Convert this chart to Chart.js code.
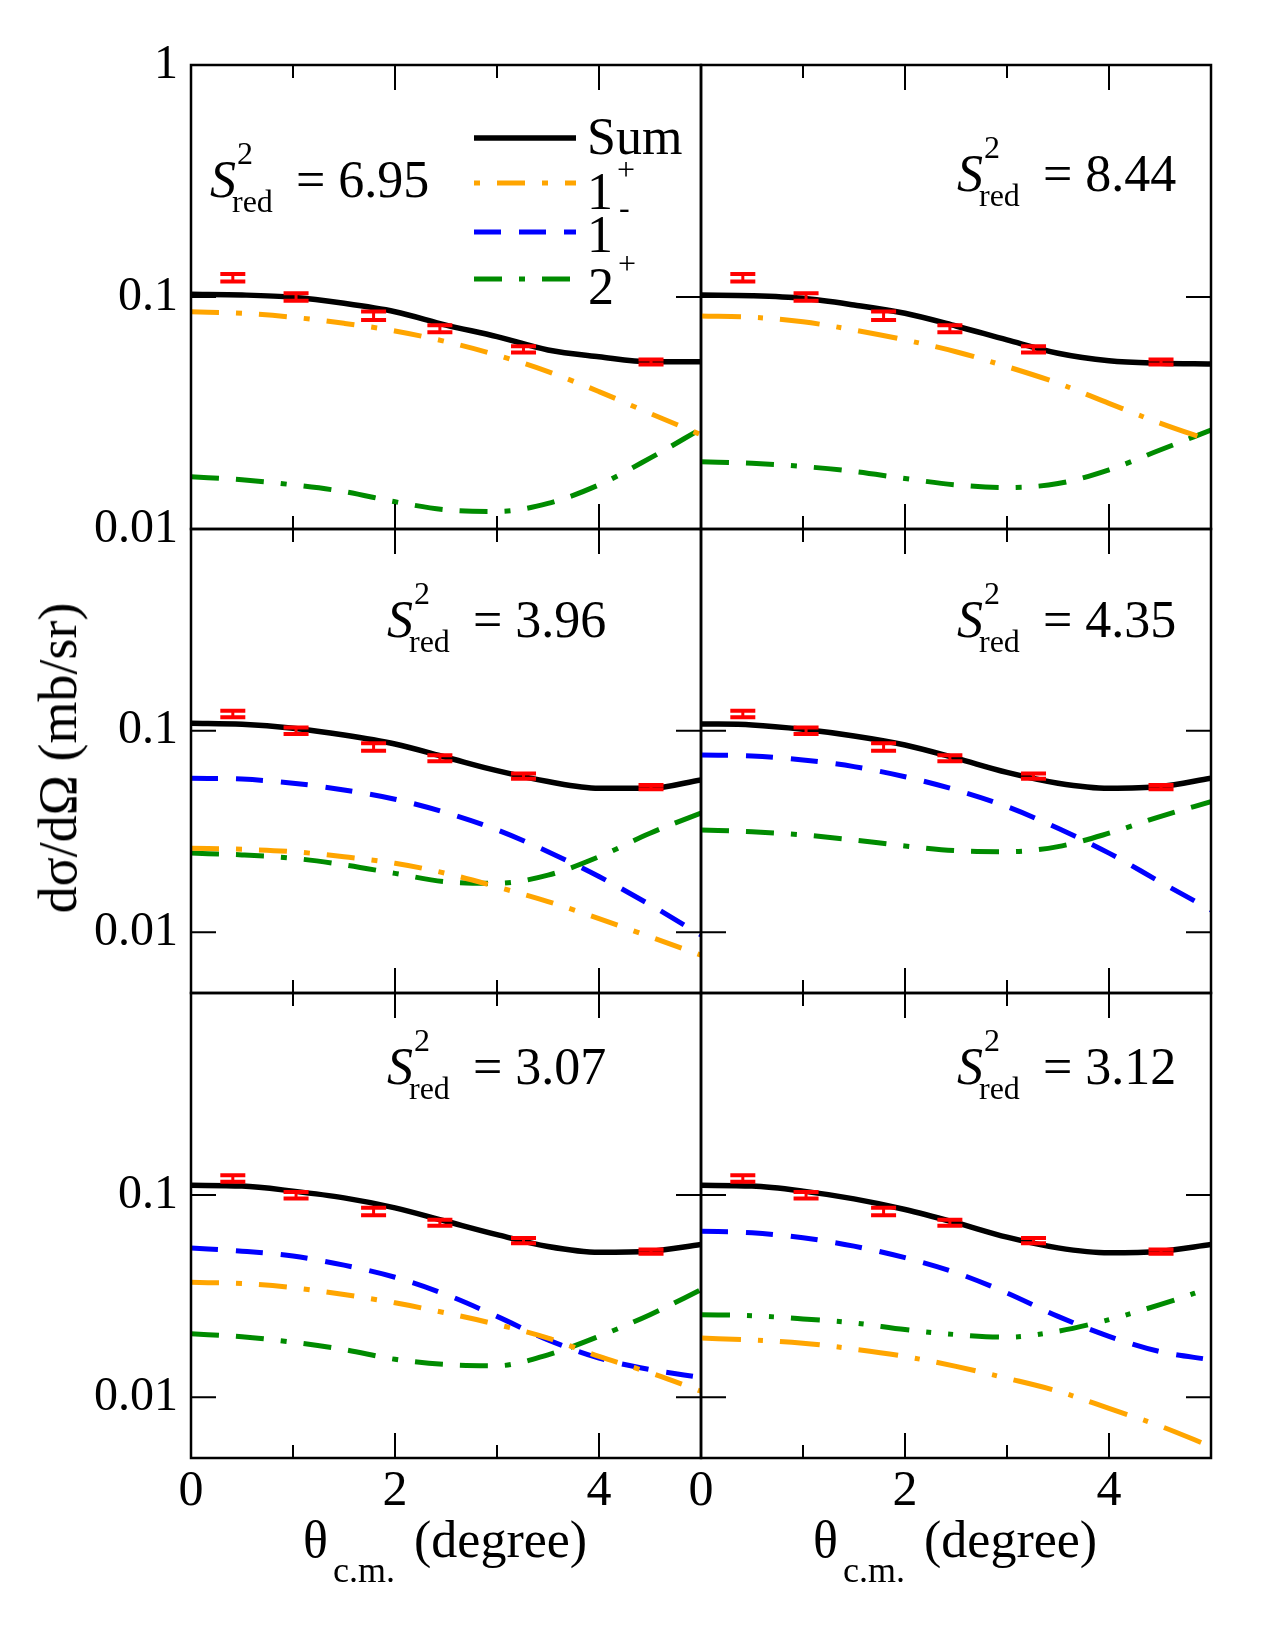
<!DOCTYPE html>
<html>
<head>
<meta charset="utf-8">
<script src="https://cdn.jsdelivr.net/npm/chart.js@4.4.0/dist/chart.umd.min.js"></script>
<style>
  body { margin: 0; background: #fff; }
  #page { position: relative; width: 1275px; height: 1650px; overflow: hidden;
          font-family: "Liberation Serif", "Times New Roman", serif; color: #000; }
  canvas { position: absolute; }
  .t { position: absolute; white-space: nowrap; line-height: 1; }
</style>
</head>
<body>
<div id="page"></div>
<script>
// ---- data ----
const angles = [0, 0.5, 1, 1.5, 2, 2.5, 3, 3.5, 4, 4.5, 5];

const expAngles = [0.41, 1.03, 1.79, 2.44, 3.26, 4.51];
const expValues = [0.121, 0.100, 0.083, 0.073, 0.0595, 0.0525];
const expErrors = [0.0045, 0.0037, 0.0035, 0.0025, 0.0018, 0.0013];

// panel 1 (top left)
const p1Sum      = [0.1027, 0.102, 0.0997, 0.0939, 0.0864, 0.0757, 0.0675, 0.0591, 0.0553, 0.0526, 0.0526];
const p1OnePlus  = [0.0864, 0.0851, 0.0818, 0.0770, 0.0714, 0.0642, 0.0562, 0.0477, 0.0391, 0.0315, 0.0255];
const p1TwoPlus  = [0.0168, 0.0163, 0.0155, 0.0145, 0.0131, 0.0121, 0.0119, 0.0129, 0.0155, 0.0202, 0.0270];
// panel 2 (top right)
const p2Sum      = [0.102, 0.1013, 0.0987, 0.0924, 0.0851, 0.075, 0.0653, 0.0572, 0.0531, 0.0518, 0.0514];
const p2OnePlus  = [0.0828, 0.0818, 0.0782, 0.0721, 0.0653, 0.0581, 0.0501, 0.0425, 0.0348, 0.0286, 0.0240];
const p2TwoPlus  = [0.0195, 0.0192, 0.0186, 0.0177, 0.0165, 0.0155, 0.0151, 0.0157, 0.0180, 0.0219, 0.0267];
// panel 3 (middle left)
const p3Sum      = [0.1089, 0.1076, 0.1028, 0.0952, 0.0859, 0.0738, 0.0633, 0.0559, 0.0518, 0.0518, 0.057];
const p3OneMinus = [0.0581, 0.0575, 0.0549, 0.0508, 0.0457, 0.0392, 0.0322, 0.0251, 0.0189, 0.0137, 0.0097];
const p3OnePlus  = [0.0261, 0.0258, 0.0251, 0.0237, 0.0220, 0.0196, 0.0168, 0.0142, 0.0117, 0.0095, 0.0077];
const p3TwoPlus  = [0.0247, 0.0242, 0.0233, 0.0216, 0.0196, 0.0178, 0.0175, 0.0192, 0.0237, 0.031, 0.039];
// panel 4 (middle right)
const p4Sum      = [0.108, 0.1068, 0.1016, 0.0941, 0.0849, 0.073, 0.0621, 0.0549, 0.0518, 0.0528, 0.0581];
const p4OneMinus = [0.0758, 0.0749, 0.0716, 0.0663, 0.0591, 0.0508, 0.042, 0.0328, 0.0247, 0.0178, 0.0129];
const p4TwoPlus  = [0.0322, 0.0315, 0.0304, 0.0287, 0.0268, 0.0254, 0.0251, 0.0266, 0.031, 0.0375, 0.0444];
// panel 5 (bottom left)
const p5Sum      = [0.1117, 0.1108, 0.1046, 0.0969, 0.0865, 0.0742, 0.0637, 0.0557, 0.0521, 0.0527, 0.0569];
const p5OneMinus = [0.0548, 0.0528, 0.0499, 0.045, 0.0392, 0.0322, 0.0251, 0.0192, 0.0156, 0.0137, 0.0125];
const p5OnePlus  = [0.037, 0.0365, 0.0348, 0.0322, 0.0293, 0.0261, 0.0229, 0.0196, 0.0159, 0.0132, 0.0107];
const p5TwoPlus  = [0.0206, 0.0199, 0.0187, 0.0172, 0.0154, 0.0145, 0.0143, 0.0162, 0.02, 0.0256, 0.034];
// panel 6 (bottom right)
const p6Sum      = [0.1117, 0.1108, 0.1046, 0.0958, 0.0849, 0.073, 0.0619, 0.0548, 0.0518, 0.0527, 0.0569];
const p6OneMinus = [0.0663, 0.0651, 0.0615, 0.0559, 0.049, 0.0413, 0.0328, 0.0251, 0.02, 0.0168, 0.0153];
const p6OnePlus  = [0.0196, 0.0192, 0.0185, 0.0173, 0.0159, 0.0142, 0.0124, 0.0107, 0.0088, 0.0072, 0.0057];
const p6TwoPlus  = [0.0256, 0.0253, 0.0244, 0.0233, 0.0216, 0.0204, 0.0198, 0.0212, 0.0242, 0.0287, 0.0348];

const sRedValues = ['6.95', '8.44', '3.96', '4.35', '3.07', '3.12'];

const xTickValues = [0, 1, 2, 3, 4, 5];
const xTickLabels = ['0', '', '2', '', '4', ''];
const yTickValues = [0.01, 0.1, 1];
const yTickLabelsTop = ['0.01', '0.1', '1'];
const yTickLabelsLower = ['0.01', '0.1', ''];

// ---- styles ----
const RED = '#ff0000', ORANGE = '#ffa500', BLUE = '#0000ff', GREEN = '#008b00';
const dashDotShort = [28, 17, 6, 17];
const dashDotLong = [40, 17, 5, 17];
const dashDashDot = [28, 17, 28, 17, 6, 17];
const dashDotDot = [29, 17, 5, 17, 5, 17];
const dashed = [27, 18];

const colLeft = [191, 701];
const rowTop = [65, 529, 993];
const panelW = 510, panelH = 464;

const panels = [
  { col: 0, row: 0, sum: p1Sum, onePlus: p1OnePlus, twoPlus: p1TwoPlus, dOne: dashDotShort, dTwo: dashDashDot, lab: [210, 198] },
  { col: 1, row: 0, sum: p2Sum, onePlus: p2OnePlus, twoPlus: p2TwoPlus, dOne: dashDotLong, dTwo: dashDashDot, lab: [957, 192] },
  { col: 0, row: 1, sum: p3Sum, oneMinus: p3OneMinus, onePlus: p3OnePlus, twoPlus: p3TwoPlus, dOne: dashDotShort, dTwo: dashDashDot, lab: [387, 638] },
  { col: 1, row: 1, sum: p4Sum, oneMinus: p4OneMinus, twoPlus: p4TwoPlus, dOne: dashDotLong, dTwo: dashDashDot, lab: [957, 638] },
  { col: 0, row: 2, sum: p5Sum, oneMinus: p5OneMinus, onePlus: p5OnePlus, twoPlus: p5TwoPlus, dOne: dashDotShort, dTwo: dashDashDot, lab: [387, 1085] },
  { col: 1, row: 2, sum: p6Sum, oneMinus: p6OneMinus, onePlus: p6OnePlus, twoPlus: p6TwoPlus, dOne: dashDotLong, dTwo: dashDotDot, lab: [957, 1085] }
];

const page = document.getElementById('page');
Chart.defaults.font.family = '"Liberation Serif", "Times New Roman", serif';
Chart.defaults.color = '#000';

function pts(arr) {
  return angles.map((a, i) => ({ x: a, y: arr[i] }));
}

function addText(x, base, size, str, italic) {
  const d = document.createElement('div');
  d.className = 't';
  d.style.left = x + 'px';
  d.style.top = (base - 0.8375 * size) + 'px';
  d.style.fontSize = size + 'px';
  if (italic) d.style.fontStyle = 'italic';
  d.textContent = str;
  page.appendChild(d);
}

// frame with inward ticks
const framePlugin = {
  id: 'frame',
  afterDraw(chart) {
    const { ctx, chartArea: a, scales } = chart;
    ctx.save();
    ctx.strokeStyle = '#000';
    ctx.lineWidth = 2;
    ctx.beginPath();
    xTickValues.forEach(v => {
      const px = scales.x.getPixelForValue(v);
      const len = v % 2 === 0 ? 25 : 13;
      ctx.moveTo(px, a.top); ctx.lineTo(px, a.top + len);
      ctx.moveTo(px, a.bottom); ctx.lineTo(px, a.bottom - len);
    });
    yTickValues.forEach(v => {
      const py = scales.y.getPixelForValue(v);
      ctx.moveTo(a.left, py); ctx.lineTo(a.left + 25, py);
      ctx.moveTo(a.right, py); ctx.lineTo(a.right - 25, py);
    });
    ctx.stroke();
    ctx.lineWidth = 2.5;
    ctx.strokeRect(a.left, a.top, a.right - a.left, a.bottom - a.top);
    ctx.restore();
  }
};

// red error bars on the experimental points
const errorBarPlugin = {
  id: 'errorBars',
  afterDatasetsDraw(chart) {
    const ctx = chart.ctx;
    const y = chart.scales.y;
    chart.data.datasets.forEach((ds, i) => {
      if (!ds.errors) return;
      const meta = chart.getDatasetMeta(i);
      meta.data.forEach((p, j) => {
        const v = ds.data[j].y, e = ds.errors[j];
        const top = y.getPixelForValue(v + e), bot = y.getPixelForValue(v - e);
        ctx.save();
        ctx.strokeStyle = RED;
        ctx.lineWidth = 3;
        ctx.beginPath();
        ctx.moveTo(p.x, top); ctx.lineTo(p.x, bot);
        ctx.stroke();
        ctx.lineWidth = 4;
        ctx.beginPath();
        ctx.moveTo(p.x - 12.5, top); ctx.lineTo(p.x + 12.5, top);
        ctx.moveTo(p.x - 12.5, bot); ctx.lineTo(p.x + 12.5, bot);
        ctx.stroke();
        ctx.restore();
      });
    });
  }
};

// legend line samples in the first panel
const legendPlugin = {
  id: 'legendLines',
  afterDraw(chart, args, opts) {
    if (!opts.items) return;
    const ctx = chart.ctx;
    opts.items.forEach(it => {
      ctx.save();
      ctx.strokeStyle = it.color;
      ctx.lineWidth = it.width;
      ctx.setLineDash(it.dash);
      ctx.lineDashOffset = it.offset;
      ctx.beginPath();
      ctx.moveTo(474 - opts.ox, it.y - opts.oy);
      ctx.lineTo(576 - opts.ox, it.y - opts.oy);
      ctx.stroke();
      ctx.restore();
    });
  }
};

panels.forEach((p, k) => {
  const L = p.col === 0 ? 191 : 30;
  const T = 55, R = 30;
  const B = p.row === 2 ? 75 : 55;
  const h = p.row === 2 ? panelH + 1 : panelH;
  const ox = colLeft[p.col] - L, oy = rowTop[p.row] - T;

  const cv = document.createElement('canvas');
  cv.width = L + panelW + R;
  cv.height = T + h + B;
  cv.style.left = ox + 'px';
  cv.style.top = oy + 'px';
  page.appendChild(cv);

  const datasets = [
    { label: 'exp', data: expAngles.map((a, i) => ({ x: a, y: expValues[i] })), errors: expErrors,
      showLine: false, pointRadius: 0, borderColor: RED }
  ];
  datasets.push({ label: 'Sum', data: pts(p.sum), borderColor: '#000', borderWidth: 5.5 });
  if (p.onePlus) datasets.push({ label: '1+', data: pts(p.onePlus), borderColor: ORANGE, borderWidth: 5, borderDash: p.dOne });
  if (p.oneMinus) datasets.push({ label: '1-', data: pts(p.oneMinus), borderColor: BLUE, borderWidth: 5, borderDash: dashed });
  datasets.push({ label: '2+', data: pts(p.twoPlus), borderColor: GREEN, borderWidth: 5, borderDash: p.dTwo });
  datasets.forEach(d => { d.pointRadius = 0; d.cubicInterpolationMode = 'monotone'; d.fill = false; d.borderCapStyle = 'butt'; });

  const yLabels = p.row === 0 ? yTickLabelsTop : yTickLabelsLower;

  new Chart(cv, {
    type: 'line',
    data: { datasets },
    plugins: [errorBarPlugin, framePlugin, legendPlugin],
    options: {
      responsive: false,
      animation: false,
      devicePixelRatio: 1,
      layout: { padding: { top: T, right: R, left: 0, bottom: 0 } },
      plugins: {
        legend: { display: false },
        tooltip: { enabled: false },
        legendLines: k === 0 ? {
          ox, oy,
          items: [
            { y: 138, color: '#000', width: 5.5, dash: [], offset: 0 },
            { y: 183, color: ORANGE, width: 5, dash: dashDotShort, offset: 45 },
            { y: 232, color: BLUE, width: 5, dash: dashed, offset: 0 },
            { y: 279, color: GREEN, width: 5, dash: dashDashDot, offset: 45 }
          ]
        } : {}
      },
      scales: {
        x: {
          type: 'linear', min: 0, max: 5,
          grid: { display: false, drawTicks: false },
          border: { display: false },
          afterBuildTicks: s => { s.ticks = xTickValues.map(v => ({ value: v })); },
          afterFit: s => { s.height = B; },
          ticks: {
            display: p.row === 2,
            autoSkip: false, maxRotation: 0, padding: 9,
            font: { size: 50, lineHeight: 1 },
            callback: (v) => xTickLabels[xTickValues.indexOf(v)]
          }
        },
        y: {
          type: 'logarithmic', min: p.row === 0 ? 0.01 : 0.005, max: 1,
          grid: { display: false, drawTicks: false },
          border: { display: false },
          afterBuildTicks: s => { s.ticks = yTickValues.map(v => ({ value: v })); },
          afterFit: s => { s.width = L; },
          ticks: {
            display: p.col === 0,
            padding: 13,
            font: { size: 48, lineHeight: 1 },
            callback: (v) => yLabels[yTickValues.indexOf(v)]
          }
        }
      }
    }
  });

  // S^2_red annotation
  const [sx, sb] = p.lab;
  addText(sx, sb, 52, 'S', true);
  addText(sx + 27, sb - 34, 32, '2');
  addText(sx + 22, sb + 14, 32, 'red');
  addText(sx + 86, sb, 52, '= ' + sRedValues[k]);
});

// legend text
addText(587, 155, 52, 'Sum');
addText(587, 210, 52, '1');
addText(617, 180, 32, '+');
addText(587, 253, 52, '1');
addText(619, 218, 32, '-');
addText(588, 305, 52, '2');
addText(618, 274, 32, '+');

// axis titles
[0, 510].forEach(dx => {
  addText(303 + dx, 1558, 52, '\u03b8');
  addText(333 + dx, 1582, 36, 'c.m.');
  addText(414 + dx, 1558, 52, '(degree)');
});
const yt = document.createElement('div');
yt.className = 't';
yt.style.fontSize = '54px';
yt.style.left = '58px';
yt.style.top = '758px';
yt.style.transform = 'translate(-50%, -50%) rotate(-90deg)';
yt.textContent = 'd\u03c3/d\u03a9 (mb/sr)';
page.appendChild(yt);
</script>
</body>
</html>
